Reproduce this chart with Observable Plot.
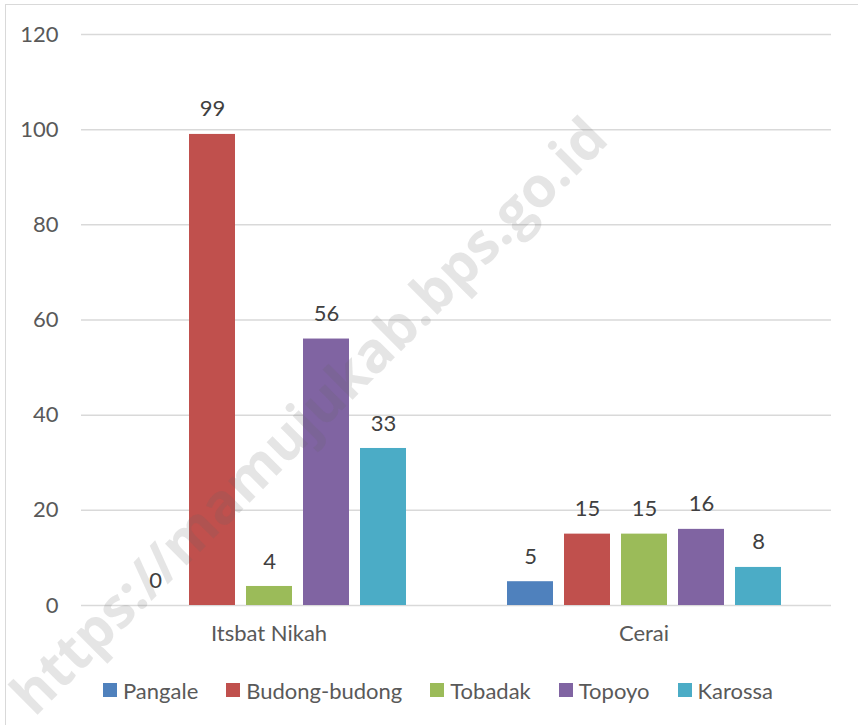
<!DOCTYPE html>
<html>
<head>
<meta charset="utf-8">
<script src="https://cdn.jsdelivr.net/npm/d3@7"></script>
<script src="https://cdn.jsdelivr.net/npm/@observablehq/plot@0.6"></script>
<style>
  html, body { margin: 0; padding: 0; background: #fff; }
  #wrap { position: relative; width: 858px; height: 725px; overflow: hidden; font-family: Lato, "Open Sans", sans-serif; }
  #frame { position: absolute; left: 5px; top: 4px; width: 900px; height: 800px; border: 1.5px solid #d9d9d9; box-sizing: border-box; }
  #wm { position: absolute; left: 307px; top: 414px; transform: translate(-50%, -50%) rotate(-45deg); font-family: "Open Sans", sans-serif; font-weight: 700; font-size: 56px; color: rgba(100,100,100,0.17); white-space: nowrap; pointer-events: none; }
  #chart { position: absolute; left: 0; top: 0; }
  #legend { position: absolute; left: 103px; top: 676px; height: 28px; display: flex; align-items: center; gap: 28px; font-size: 22px; color: #595959; white-space: nowrap; }
  .item { display: flex; align-items: center; gap: 6px; }
  .sw { width: 14px; height: 14px; display: inline-block; }
</style>
</head>
<body>
<div id="wrap">
  <div id="frame"></div>
  <div id="chart"></div>
  <div id="legend"></div>
  <div id="wm">https://mamujukab.bps.go.id</div>
</div>
<script>
const categories = ["Itsbat Nikah", "Cerai"];
const series = ["Pangale", "Budong-budong", "Tobadak", "Topoyo", "Karossa"];
const colors = ["#4F81BD", "#C0504D", "#9BBB59", "#8064A2", "#4BACC6"];
const itsbatNikah = [0, 99, 4, 56, 33];
const cerai = [5, 15, 15, 16, 8];
const yTicks = [0, 20, 40, 60, 80, 100, 120];

const valuesByCat = [itsbatNikah, cerai];
const data = [];
categories.forEach((c, i) => series.forEach((s, j) => data.push({cat: c, series: s, value: valuesByCat[i][j]})));

const chart = Plot.plot({
  width: 858,
  height: 660,
  marginLeft: 81,
  marginRight: 27,
  marginTop: 34,
  marginBottom: 55,
  style: {fontFamily: "Lato, 'Open Sans', sans-serif", fontSize: "22px", color: "#595959", background: "transparent", overflow: "visible"},
  fx: {domain: categories, padding: 0, label: null},
  x: {domain: series, paddingInner: 0.2, paddingOuter: 0.86, axis: null},
  y: {domain: [0, 120], label: null},
  color: {domain: series, range: colors},
  marks: [
    Plot.gridY(yTicks, {stroke: "#d9d9d9", strokeOpacity: 1, strokeWidth: 1.5}),
    Plot.axisY(yTicks, {tickSize: 0, tickPadding: 23, label: null, fontSize: 22, fill: "#595959"}),
    Plot.barY(data, {fx: "cat", x: "series", y: "value", fill: "series"}),
    Plot.text(data, {fx: "cat", x: "series", y: "value", text: d => String(d.value), dy: -25, fontSize: 22, fill: "#404040"}),
    Plot.axisFx({anchor: "bottom", tickSize: 0, tickPadding: 20, label: null, fontSize: 22, fill: "#595959"})
  ]
});
document.getElementById("chart").appendChild(chart);

const legend = document.getElementById("legend");
series.forEach((s, i) => {
  const it = document.createElement("div");
  it.className = "item";
  const sw = document.createElement("span");
  sw.className = "sw";
  sw.style.background = colors[i];
  const t = document.createElement("span");
  t.textContent = s;
  it.appendChild(sw);
  it.appendChild(t);
  legend.appendChild(it);
});
</script>
</body>
</html>
